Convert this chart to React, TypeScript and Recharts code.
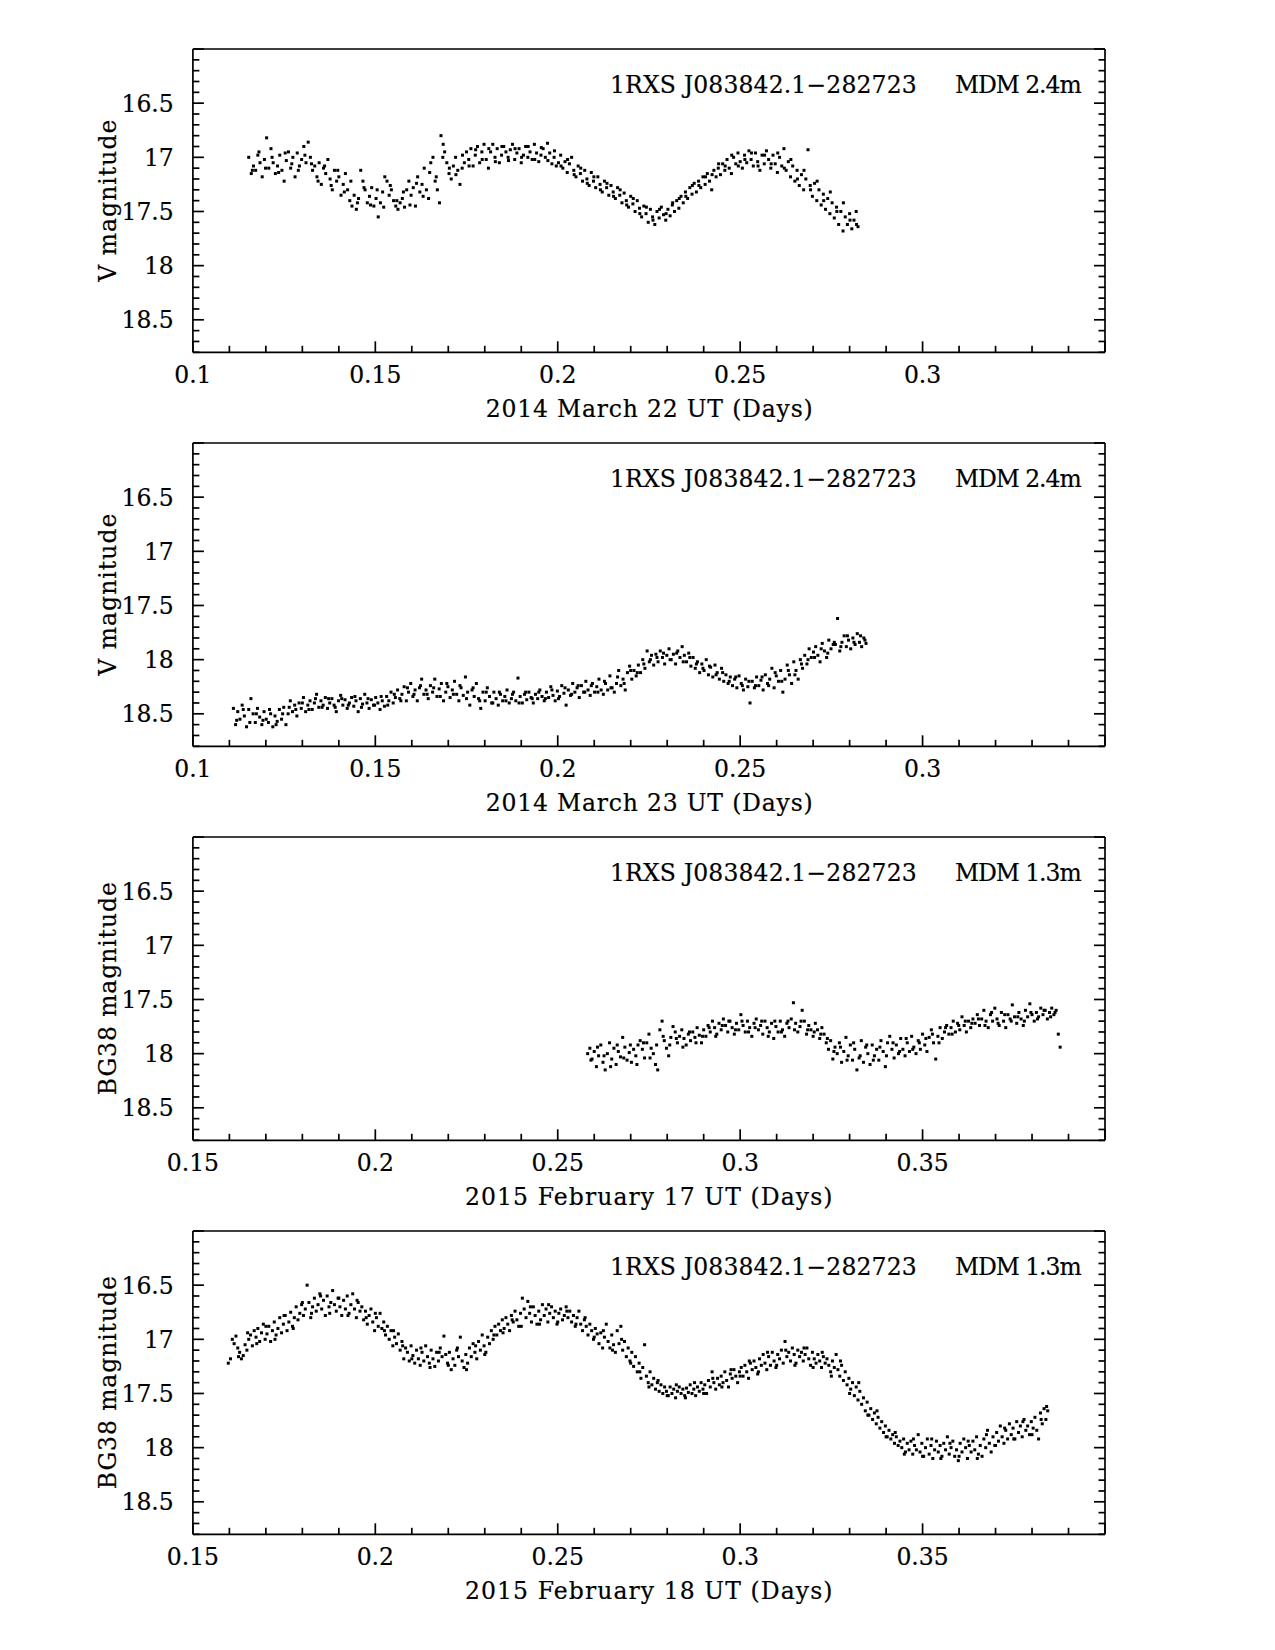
import React from 'react';
import { ScatterChart, Scatter, XAxis, YAxis } from 'recharts';

// ---------------- data (day fraction, magnitude) ----------------
const march22: [number, number][] = [
[0.1153,17.00],[0.1160,17.15],[0.1166,17.08],[0.1172,17.12],[0.1178,16.98],[0.1184,17.05],[0.1190,17.18],[0.1196,17.02],[0.1202,16.82],[0.1208,17.10],
[0.1214,16.92],[0.1220,17.05],[0.1226,17.15],[0.1232,17.08],[0.1238,16.98],[0.1244,17.12],[0.1250,17.22],[0.1256,17.03],[0.1262,16.95],[0.1268,17.10],
[0.1274,17.00],[0.1280,17.18],[0.1286,16.96],[0.1292,17.08],[0.1298,17.02],[0.1304,16.90],[0.1310,17.05],[0.1316,16.86],[0.1322,17.00],[0.1328,17.12],
[0.1334,17.08],[0.1340,17.18],[0.1346,17.05],[0.1352,17.25],[0.1358,17.10],[0.1364,17.15],[0.1370,17.02],[0.1376,17.20],[0.1382,17.30],[0.1388,17.12],
[0.1394,17.22],[0.1400,17.18],[0.1406,17.35],[0.1412,17.25],[0.1418,17.15],[0.1424,17.30],[0.1430,17.40],[0.1436,17.45],[0.1442,17.35],[0.1448,17.48],
[0.1454,17.38],[0.1460,17.12],[0.1466,17.22],[0.1472,17.30],[0.1478,17.42],[0.1484,17.36],[0.1490,17.28],[0.1496,17.45],[0.1502,17.38],[0.1508,17.55],
[0.1514,17.42],[0.1520,17.32],[0.1526,17.18],[0.1532,17.22],[0.1538,17.35],[0.1544,17.30],[0.1550,17.40],[0.1556,17.45],[0.1562,17.48],[0.1568,17.42],
[0.1574,17.38],[0.1580,17.46],[0.1586,17.30],[0.1592,17.22],[0.1598,17.35],[0.1604,17.28],[0.1610,17.45],[0.1616,17.18],[0.1622,17.32],[0.1628,17.25],
[0.1634,17.10],[0.1640,17.30],[0.1646,17.38],[0.1652,17.05],[0.1658,17.00],[0.1664,17.22],[0.1670,17.30],[0.1676,17.42],[0.1680,16.80],[0.1686,16.88],
[0.1690,16.95],[0.1696,17.05],[0.1702,17.15],[0.1708,17.20],[0.1714,17.08],[0.1720,17.00],[0.1726,17.12],[0.1732,17.25],[0.1738,17.10],[0.1744,17.05],
[0.1750,16.95],[0.1756,17.02],[0.1762,16.92],[0.1768,17.08],[0.1774,16.98],[0.1780,16.90],[0.1786,17.05],[0.1792,16.95],[0.1798,16.88],[0.1804,17.02],
[0.1810,17.10],[0.1816,16.95],[0.1822,16.88],[0.1828,17.00],[0.1834,16.92],[0.1840,17.05],[0.1846,16.98],[0.1852,16.90],[0.1858,16.95],[0.1864,17.00],
[0.1870,16.93],[0.1876,16.88],[0.1882,17.02],[0.1888,16.96],[0.1894,16.92],[0.1900,17.05],[0.1906,16.98],[0.1912,16.90],[0.1918,17.00],[0.1924,16.95],
[0.1930,17.02],[0.1936,16.88],[0.1942,16.96],[0.1948,17.04],[0.1954,16.98],[0.1960,16.92],[0.1966,17.00],[0.1972,16.87],[0.1978,16.96],[0.1984,17.06],
[0.1990,17.00],[0.1996,17.08],[0.2002,17.05],[0.2008,16.98],[0.2014,17.10],[0.2020,17.04],[0.2026,17.14],[0.2032,17.06],[0.2038,17.00],[0.2044,17.12],
[0.2050,17.18],[0.2056,17.08],[0.2062,17.15],[0.2068,17.22],[0.2074,17.12],[0.2080,17.20],[0.2086,17.26],[0.2092,17.14],[0.2098,17.22],[0.2104,17.28],
[0.2110,17.18],[0.2116,17.25],[0.2122,17.32],[0.2128,17.22],[0.2134,17.28],[0.2140,17.35],[0.2146,17.26],[0.2152,17.32],[0.2158,17.38],[0.2164,17.28],
[0.2170,17.35],[0.2176,17.42],[0.2182,17.33],[0.2188,17.40],[0.2194,17.46],[0.2200,17.36],[0.2206,17.43],[0.2212,17.50],[0.2218,17.40],[0.2224,17.47],
[0.2230,17.55],[0.2236,17.45],[0.2242,17.52],[0.2248,17.60],[0.2254,17.48],[0.2260,17.55],[0.2266,17.62],[0.2272,17.50],[0.2278,17.56],[0.2284,17.46],
[0.2290,17.53],[0.2296,17.58],[0.2302,17.48],[0.2308,17.54],[0.2314,17.44],[0.2320,17.50],[0.2326,17.40],[0.2332,17.47],[0.2338,17.36],[0.2344,17.42],
[0.2350,17.32],[0.2356,17.38],[0.2362,17.28],[0.2368,17.34],[0.2374,17.24],[0.2380,17.32],[0.2386,17.22],[0.2392,17.28],[0.2398,17.18],[0.2404,17.25],
[0.2410,17.15],[0.2416,17.22],[0.2422,17.30],[0.2428,17.12],[0.2434,17.18],[0.2440,17.10],[0.2446,17.16],[0.2452,17.06],[0.2458,17.12],[0.2464,17.02],
[0.2470,17.10],[0.2476,17.15],[0.2482,17.00],[0.2488,17.06],[0.2494,16.96],[0.2500,17.04],[0.2506,17.10],[0.2512,16.98],[0.2518,17.05],[0.2524,16.94],
[0.2530,17.02],[0.2536,17.08],[0.2542,16.96],[0.2548,17.04],[0.2554,17.12],[0.2560,16.98],[0.2566,17.06],[0.2572,16.94],[0.2578,17.02],[0.2584,17.10],
[0.2590,16.98],[0.2596,17.06],[0.2602,17.14],[0.2608,17.00],[0.2614,17.08],[0.2620,16.92],[0.2626,17.12],[0.2632,17.04],[0.2638,17.18],[0.2644,17.08],
[0.2650,17.22],[0.2656,17.12],[0.2662,17.26],[0.2668,17.16],[0.2674,17.30],[0.2680,17.20],[0.2686,16.93],[0.2692,17.26],[0.2698,17.36],[0.2704,17.24],
[0.2710,17.40],[0.2716,17.30],[0.2722,17.44],[0.2728,17.34],[0.2734,17.48],[0.2740,17.38],[0.2746,17.52],[0.2752,17.42],[0.2758,17.56],[0.2764,17.46],
[0.2770,17.62],[0.2776,17.50],[0.2782,17.68],[0.2788,17.55],[0.2794,17.62],[0.2800,17.52],[0.2806,17.66],[0.2812,17.58],[0.2818,17.50],[0.2823,17.64],
];
const march22b: [number, number][] = [
[0.1163,17.12],[0.1181,16.95],[0.1199,17.10],[0.1217,17.00],[0.1235,17.14],[0.1253,16.96],[0.1271,17.06],[0.1289,17.12],[0.1307,16.98],[0.1325,17.06],
[0.1343,17.22],[0.1361,17.08],[0.1379,17.26],[0.1397,17.12],[0.1415,17.32],[0.1433,17.22],[0.1451,17.42],[0.1469,17.28],[0.1487,17.44],[0.1505,17.30],
[0.1523,17.46],[0.1541,17.26],[0.1559,17.40],[0.1577,17.32],[0.1595,17.44],[0.1613,17.24],[0.1631,17.36],[0.1649,17.14],[0.1667,17.18],[0.1685,17.00],
[0.1703,17.10],[0.1721,17.16],[0.1739,16.98],[0.1757,17.08],[0.1775,16.93],[0.1793,17.02],[0.1811,16.92],[0.1829,17.04],[0.1847,16.90],[0.1865,17.03],
[0.1883,16.92],[0.1901,17.00],[0.1919,16.90],[0.1937,17.02],[0.1955,16.91],[0.1973,17.03],[0.1991,16.94],[0.2009,17.08],[0.2027,17.02],[0.2045,17.16],
[0.2063,17.10],[0.2081,17.24],[0.2099,17.18],[0.2117,17.30],[0.2135,17.24],[0.2153,17.36],[0.2171,17.30],[0.2189,17.44],[0.2207,17.38],[0.2225,17.52],
[0.2243,17.46],[0.2261,17.58],[0.2279,17.48],[0.2297,17.52],[0.2315,17.42],[0.2333,17.38],[0.2351,17.36],[0.2369,17.26],[0.2387,17.26],[0.2405,17.18],
[0.2423,17.16],[0.2441,17.06],[0.2459,17.08],[0.2477,16.98],[0.2495,17.08],[0.2513,17.02],[0.2531,16.96],[0.2549,17.08],[0.2567,16.98],[0.2585,17.06],
[0.2603,16.96],[0.2621,17.10],[0.2639,17.02],[0.2657,17.20],[0.2675,17.12],[0.2693,17.30],[0.2711,17.22],[0.2729,17.40],[0.2747,17.32],[0.2765,17.50],
[0.2783,17.42],[0.2801,17.58],[0.2819,17.62],
];

const march23: [number, number][] = [
[0.1111,18.45],[0.1117,18.60],[0.1123,18.48],[0.1129,18.55],[0.1135,18.42],[0.1141,18.52],[0.1147,18.62],[0.1153,18.46],[0.1159,18.36],[0.1165,18.50],
[0.1171,18.58],[0.1177,18.45],[0.1183,18.53],[0.1189,18.60],[0.1195,18.48],[0.1201,18.55],[0.1207,18.58],[0.1213,18.50],[0.1219,18.62],[0.1225,18.52],
[0.1231,18.57],[0.1237,18.46],[0.1243,18.55],[0.1249,18.44],[0.1255,18.60],[0.1261,18.50],[0.1267,18.38],[0.1273,18.48],[0.1279,18.42],[0.1285,18.52],
[0.1291,18.40],[0.1297,18.45],[0.1303,18.35],[0.1309,18.48],[0.1315,18.42],[0.1321,18.38],[0.1327,18.46],[0.1333,18.40],[0.1339,18.32],[0.1345,18.44],
[0.1351,18.38],[0.1357,18.42],[0.1363,18.35],[0.1369,18.45],[0.1375,18.40],[0.1381,18.36],[0.1387,18.42],[0.1393,18.48],[0.1399,18.38],[0.1405,18.33],
[0.1411,18.42],[0.1417,18.37],[0.1423,18.45],[0.1429,18.40],[0.1435,18.35],[0.1441,18.43],[0.1447,18.38],[0.1453,18.48],[0.1459,18.36],[0.1465,18.41],
[0.1471,18.32],[0.1477,18.40],[0.1483,18.45],[0.1489,18.37],[0.1495,18.42],[0.1501,18.35],[0.1507,18.40],[0.1513,18.46],[0.1519,18.38],[0.1525,18.43],
[0.1531,18.34],[0.1537,18.38],[0.1543,18.30],[0.1549,18.40],[0.1555,18.35],[0.1561,18.28],[0.1567,18.36],[0.1573,18.32],[0.1579,18.25],[0.1585,18.38],
[0.1591,18.30],[0.1597,18.22],[0.1603,18.34],[0.1609,18.28],[0.1615,18.38],[0.1621,18.26],[0.1627,18.18],[0.1633,18.32],[0.1639,18.28],[0.1645,18.36],
[0.1651,18.24],[0.1657,18.30],[0.1663,18.18],[0.1669,18.34],[0.1675,18.27],[0.1681,18.22],[0.1687,18.38],[0.1693,18.30],[0.1699,18.25],[0.1705,18.35],
[0.1711,18.28],[0.1717,18.20],[0.1723,18.32],[0.1729,18.38],[0.1735,18.26],[0.1741,18.33],[0.1747,18.16],[0.1753,18.30],[0.1759,18.42],[0.1765,18.28],
[0.1771,18.34],[0.1777,18.22],[0.1783,18.36],[0.1789,18.45],[0.1795,18.30],[0.1801,18.38],[0.1807,18.26],[0.1813,18.34],[0.1819,18.40],[0.1825,18.30],
[0.1831,18.36],[0.1837,18.42],[0.1843,18.32],[0.1849,18.38],[0.1855,18.34],[0.1861,18.28],[0.1867,18.40],[0.1873,18.36],[0.1879,18.30],[0.1885,18.38],
[0.1891,18.17],[0.1897,18.34],[0.1903,18.40],[0.1909,18.32],[0.1915,18.37],[0.1921,18.30],[0.1927,18.35],[0.1933,18.40],[0.1939,18.32],[0.1945,18.36],
[0.1951,18.28],[0.1957,18.34],[0.1963,18.38],[0.1969,18.30],[0.1975,18.35],[0.1981,18.25],[0.1987,18.33],[0.1993,18.38],[0.1999,18.29],[0.2005,18.34],
[0.2011,18.24],[0.2017,18.31],[0.2023,18.42],[0.2029,18.28],[0.2035,18.33],[0.2041,18.22],[0.2047,18.30],[0.2053,18.26],[0.2059,18.35],[0.2065,18.24],
[0.2071,18.30],[0.2077,18.20],[0.2083,18.28],[0.2089,18.33],[0.2095,18.22],[0.2101,18.30],[0.2107,18.25],[0.2113,18.18],[0.2119,18.28],[0.2125,18.32],
[0.2131,18.22],[0.2137,18.28],[0.2143,18.15],[0.2149,18.26],[0.2155,18.30],[0.2161,18.22],[0.2167,18.10],[0.2173,18.24],[0.2179,18.18],[0.2185,18.28],
[0.2191,18.12],[0.2197,18.06],[0.2203,18.18],[0.2209,18.10],[0.2215,18.15],[0.2221,18.05],[0.2227,18.12],[0.2233,18.00],[0.2239,18.08],[0.2245,17.92],
[0.2251,18.02],[0.2257,17.96],[0.2263,18.05],[0.2269,17.95],[0.2275,18.02],[0.2281,17.92],[0.2287,17.98],[0.2293,18.04],[0.2299,17.96],[0.2305,17.90],
[0.2311,18.00],[0.2317,17.95],[0.2323,18.04],[0.2329,17.92],[0.2335,17.98],[0.2341,17.88],[0.2347,17.96],[0.2353,18.02],[0.2359,17.94],[0.2365,18.06],
[0.2371,17.98],[0.2377,18.08],[0.2383,18.02],[0.2389,18.12],[0.2395,18.04],[0.2401,18.10],[0.2407,18.00],[0.2413,18.14],[0.2419,18.07],[0.2425,18.16],
[0.2431,18.05],[0.2437,18.12],[0.2443,18.18],[0.2449,18.08],[0.2455,18.20],[0.2461,18.14],[0.2467,18.22],[0.2473,18.16],[0.2479,18.24],[0.2485,18.18],
[0.2491,18.26],[0.2497,18.15],[0.2503,18.22],[0.2509,18.28],[0.2515,18.18],[0.2521,18.25],[0.2527,18.40],[0.2533,18.20],[0.2539,18.26],[0.2545,18.16],
[0.2551,18.24],[0.2557,18.19],[0.2563,18.28],[0.2569,18.14],[0.2575,18.22],[0.2581,18.18],[0.2587,18.08],[0.2593,18.26],[0.2599,18.15],[0.2605,18.20],
[0.2611,18.10],[0.2617,18.30],[0.2623,18.18],[0.2629,18.05],[0.2635,18.14],[0.2641,18.22],[0.2647,18.02],[0.2653,18.10],[0.2659,18.18],[0.2665,18.00],
[0.2671,18.08],[0.2677,17.96],[0.2683,18.04],[0.2689,17.90],[0.2695,17.98],[0.2701,17.93],[0.2707,17.88],[0.2713,17.96],[0.2719,18.02],[0.2725,17.85],
[0.2731,17.92],[0.2737,17.98],[0.2743,17.82],[0.2749,17.90],[0.2755,17.86],[0.2761,17.86],[0.2767,17.62],[0.2773,17.92],[0.2779,17.84],[0.2785,17.78],
[0.2791,17.88],[0.2797,17.82],[0.2803,17.90],[0.2809,17.80],[0.2815,17.86],[0.2821,17.76],[0.2827,17.84],[0.2833,17.88],[0.2839,17.80],[0.2845,17.85],
];
const march23b: [number, number][] = [
[0.1120,18.56],[0.1138,18.46],[0.1156,18.58],[0.1174,18.50],[0.1192,18.56],[0.1210,18.46],[0.1228,18.60],[0.1246,18.50],[0.1264,18.44],[0.1282,18.46],
[0.1300,18.40],[0.1318,18.46],[0.1336,18.36],[0.1354,18.44],[0.1372,18.36],[0.1390,18.44],[0.1408,18.36],[0.1426,18.42],[0.1444,18.34],[0.1462,18.44],
[0.1480,18.36],[0.1498,18.42],[0.1516,18.34],[0.1534,18.42],[0.1552,18.32],[0.1570,18.38],[0.1588,18.26],[0.1606,18.32],[0.1624,18.24],[0.1642,18.32],
[0.1660,18.26],[0.1678,18.34],[0.1696,18.22],[0.1714,18.32],[0.1732,18.24],[0.1750,18.36],[0.1768,18.26],[0.1786,18.38],[0.1804,18.30],[0.1822,18.40],
[0.1840,18.30],[0.1858,18.38],[0.1876,18.32],[0.1894,18.40],[0.1912,18.30],[0.1930,18.36],[0.1948,18.30],[0.1966,18.36],[0.1984,18.28],[0.2002,18.36],
[0.2020,18.26],[0.2038,18.32],[0.2056,18.24],[0.2074,18.30],[0.2092,18.24],[0.2110,18.30],[0.2128,18.20],[0.2146,18.26],[0.2164,18.16],[0.2182,18.22],
[0.2200,18.10],[0.2218,18.12],[0.2236,18.04],[0.2254,18.00],[0.2272,17.98],[0.2290,17.94],[0.2308,18.00],[0.2326,17.94],[0.2344,18.02],[0.2362,17.98],
[0.2380,18.04],[0.2398,18.08],[0.2416,18.06],[0.2434,18.14],[0.2452,18.12],[0.2470,18.20],[0.2488,18.16],[0.2506,18.24],[0.2524,18.20],[0.2542,18.24],
[0.2560,18.16],[0.2578,18.24],[0.2596,18.12],[0.2614,18.20],[0.2632,18.10],[0.2650,18.14],[0.2668,18.04],[0.2686,18.00],[0.2704,17.98],[0.2722,17.90],
[0.2740,17.94],[0.2758,17.84],[0.2776,17.88],[0.2794,17.78],[0.2812,17.84],[0.2830,17.78],[0.2842,17.82],
];

const feb17: [number, number][] = [
[0.2582,18.00],[0.2588,17.95],[0.2594,18.05],[0.2600,17.98],[0.2606,18.12],[0.2612,18.02],[0.2618,17.92],[0.2624,18.08],[0.2630,18.15],[0.2636,18.00],
[0.2642,17.90],[0.2648,18.05],[0.2654,17.95],[0.2660,18.10],[0.2666,17.98],[0.2672,18.03],[0.2678,17.85],[0.2684,17.94],[0.2690,18.06],[0.2696,17.99],
[0.2702,18.08],[0.2708,17.96],[0.2714,18.02],[0.2720,17.92],[0.2726,17.88],[0.2732,17.96],[0.2738,18.04],[0.2744,17.90],[0.2750,17.82],[0.2756,17.95],
[0.2762,18.00],[0.2768,18.10],[0.2774,18.15],[0.2780,17.78],[0.2786,17.70],[0.2792,17.88],[0.2798,17.95],[0.2804,18.02],[0.2810,17.85],[0.2816,17.75],
[0.2822,17.80],[0.2828,17.90],[0.2834,17.84],[0.2840,17.78],[0.2846,17.86],[0.2852,17.92],[0.2858,17.82],[0.2864,17.88],[0.2870,17.80],[0.2876,17.85],
[0.2882,17.76],[0.2888,17.83],[0.2894,17.90],[0.2900,17.78],[0.2906,17.84],[0.2912,17.74],[0.2918,17.80],[0.2924,17.70],[0.2930,17.76],[0.2936,17.82],
[0.2942,17.72],[0.2948,17.78],[0.2954,17.68],[0.2960,17.74],[0.2966,17.80],[0.2972,17.70],[0.2978,17.76],[0.2984,17.82],[0.2990,17.72],[0.2996,17.78],
[0.3002,17.64],[0.3008,17.74],[0.3014,17.80],[0.3020,17.70],[0.3026,17.76],[0.3032,17.84],[0.3038,17.72],[0.3044,17.68],[0.3050,17.78],[0.3056,17.74],
[0.3062,17.82],[0.3068,17.70],[0.3074,17.76],[0.3080,17.80],[0.3086,17.72],[0.3092,17.86],[0.3098,17.75],[0.3104,17.80],[0.3110,17.70],[0.3116,17.78],
[0.3122,17.84],[0.3128,17.72],[0.3134,17.76],[0.3140,17.68],[0.3146,17.53],[0.3152,17.72],[0.3158,17.80],[0.3164,17.75],[0.3170,17.60],[0.3176,17.70],
[0.3182,17.82],[0.3188,17.74],[0.3194,17.78],[0.3200,17.84],[0.3206,17.72],[0.3212,17.78],[0.3218,17.86],[0.3224,17.76],[0.3230,17.82],[0.3236,17.90],
[0.3242,17.96],[0.3248,17.88],[0.3254,18.05],[0.3260,17.94],[0.3266,18.00],[0.3272,17.90],[0.3278,18.08],[0.3284,17.98],[0.3290,17.85],[0.3296,18.02],
[0.3302,17.92],[0.3308,18.06],[0.3314,17.96],[0.3320,18.15],[0.3326,18.04],[0.3332,17.88],[0.3338,18.08],[0.3344,17.94],[0.3350,18.00],[0.3356,18.10],
[0.3362,17.92],[0.3368,18.02],[0.3374,17.96],[0.3380,18.06],[0.3386,17.88],[0.3392,17.98],[0.3398,18.12],[0.3404,17.90],[0.3410,17.84],[0.3416,17.96],
[0.3422,18.04],[0.3428,17.92],[0.3434,18.00],[0.3440,17.86],[0.3446,17.96],[0.3452,18.02],[0.3458,17.90],[0.3464,17.98],[0.3470,17.84],[0.3476,17.94],
[0.3482,18.00],[0.3488,17.88],[0.3494,17.96],[0.3500,17.82],[0.3506,17.92],[0.3512,17.98],[0.3518,17.85],[0.3524,17.78],[0.3530,17.90],[0.3536,18.05],
[0.3542,17.84],[0.3548,17.76],[0.3554,17.86],[0.3560,17.80],[0.3566,17.74],[0.3572,17.82],[0.3578,17.76],[0.3584,17.70],[0.3590,17.80],[0.3596,17.72],
[0.3602,17.78],[0.3608,17.66],[0.3614,17.74],[0.3620,17.80],[0.3626,17.70],[0.3632,17.76],[0.3638,17.68],[0.3644,17.72],[0.3650,17.64],[0.3656,17.74],
[0.3662,17.68],[0.3668,17.60],[0.3674,17.70],[0.3680,17.76],[0.3686,17.64],[0.3692,17.70],[0.3698,17.58],[0.3704,17.68],[0.3710,17.74],[0.3716,17.62],
[0.3722,17.70],[0.3728,17.76],[0.3734,17.64],[0.3740,17.68],[0.3746,17.55],[0.3752,17.66],[0.3758,17.72],[0.3764,17.62],[0.3770,17.68],[0.3776,17.74],
[0.3782,17.60],[0.3788,17.66],[0.3794,17.54],[0.3800,17.64],[0.3806,17.70],[0.3812,17.62],[0.3818,17.66],[0.3824,17.58],[0.3830,17.64],[0.3836,17.60],
[0.3842,17.68],[0.3848,17.62],[0.3854,17.58],[0.3860,17.64],[0.3866,17.60],[0.3872,17.82],[0.3877,17.94],
];
const feb17b: [number, number][] = [
[0.2591,18.06],[0.2609,17.94],[0.2627,18.02],[0.2645,18.12],[0.2663,17.92],[0.2681,18.04],[0.2699,17.92],[0.2717,18.10],[0.2735,17.90],[0.2753,18.04],
[0.2771,17.92],[0.2789,17.84],[0.2807,17.92],[0.2825,17.86],[0.2843,17.94],[0.2861,17.80],[0.2879,17.90],[0.2897,17.84],[0.2915,17.76],[0.2933,17.84],
[0.2951,17.74],[0.2969,17.70],[0.2987,17.78],[0.3005,17.70],[0.3023,17.80],[0.3041,17.76],[0.3059,17.70],[0.3077,17.84],[0.3095,17.70],[0.3113,17.80],
[0.3131,17.70],[0.3149,17.78],[0.3167,17.70],[0.3185,17.78],[0.3203,17.80],[0.3221,17.82],[0.3239,17.86],[0.3257,17.98],[0.3275,17.94],[0.3293,18.06],
[0.3311,17.90],[0.3329,18.02],[0.3347,17.92],[0.3365,18.06],[0.3383,17.94],[0.3401,18.02],[0.3419,17.90],[0.3437,17.98],[0.3455,17.86],[0.3473,17.96],
[0.3491,17.90],[0.3509,17.86],[0.3527,17.82],[0.3545,17.90],[0.3563,17.76],[0.3581,17.82],[0.3599,17.74],[0.3617,17.70],[0.3635,17.72],[0.3653,17.68],
[0.3671,17.74],[0.3689,17.62],[0.3707,17.72],[0.3725,17.64],[0.3743,17.70],[0.3761,17.66],[0.3779,17.70],[0.3797,17.62],[0.3815,17.68],[0.3833,17.60],
[0.3851,17.66],[0.3863,17.62],
];

const feb18: [number, number][] = [
[0.1597,17.22],[0.1603,17.18],[0.1608,17.00],[0.1613,17.04],[0.1618,16.97],[0.1623,17.08],[0.1628,17.12],[0.1633,17.18],[0.1638,17.15],[0.1643,17.05],
[0.1648,17.10],[0.1653,17.00],[0.1658,16.96],[0.1663,17.06],[0.1668,16.92],[0.1673,16.98],[0.1678,16.90],[0.1683,17.02],[0.1688,16.94],[0.1693,16.86],
[0.1698,17.00],[0.1703,16.95],[0.1708,16.88],[0.1713,17.02],[0.1718,16.92],[0.1723,16.84],[0.1728,16.96],[0.1733,16.90],[0.1738,16.80],[0.1743,16.94],
[0.1748,16.86],[0.1753,16.78],[0.1758,16.92],[0.1763,16.84],[0.1768,16.75],[0.1773,16.88],[0.1778,16.80],[0.1783,16.70],[0.1788,16.82],[0.1793,16.76],
[0.1798,16.68],[0.1803,16.78],[0.1808,16.72],[0.1813,16.50],[0.1818,16.66],[0.1823,16.80],[0.1828,16.70],[0.1833,16.62],[0.1838,16.74],[0.1843,16.68],
[0.1848,16.58],[0.1853,16.72],[0.1858,16.64],[0.1863,16.78],[0.1868,16.60],[0.1873,16.70],[0.1878,16.66],[0.1883,16.55],[0.1888,16.68],[0.1893,16.74],
[0.1898,16.62],[0.1903,16.70],[0.1908,16.78],[0.1913,16.64],[0.1918,16.72],[0.1923,16.60],[0.1928,16.76],[0.1933,16.68],[0.1938,16.58],[0.1943,16.72],
[0.1948,16.80],[0.1953,16.66],[0.1958,16.74],[0.1963,16.70],[0.1968,16.82],[0.1973,16.74],[0.1978,16.86],[0.1983,16.78],[0.1988,16.72],[0.1993,16.84],
[0.1998,16.92],[0.2003,16.80],[0.2008,16.88],[0.2013,16.76],[0.2018,16.90],[0.2023,16.84],[0.2028,16.96],[0.2033,16.88],[0.2038,17.00],[0.2043,16.92],
[0.2048,17.06],[0.2053,16.98],[0.2058,17.04],[0.2063,16.95],[0.2068,17.10],[0.2073,17.02],[0.2078,17.18],[0.2083,17.08],[0.2088,17.12],[0.2093,17.20],
[0.2098,17.06],[0.2103,17.15],[0.2108,17.22],[0.2113,17.10],[0.2118,17.18],[0.2123,17.24],[0.2128,17.12],[0.2133,17.20],[0.2138,17.06],[0.2143,17.16],
[0.2148,17.22],[0.2153,17.10],[0.2158,17.18],[0.2163,17.25],[0.2168,17.12],[0.2173,17.20],[0.2178,17.08],[0.2183,17.16],[0.2188,16.97],[0.2193,17.14],
[0.2198,17.22],[0.2203,17.12],[0.2208,17.28],[0.2213,17.18],[0.2218,17.24],[0.2223,17.10],[0.2228,17.16],[0.2233,16.98],[0.2238,17.20],[0.2243,17.26],
[0.2248,17.14],[0.2253,17.22],[0.2258,17.08],[0.2263,17.16],[0.2268,17.04],[0.2273,17.12],[0.2278,17.18],[0.2283,17.02],[0.2288,17.10],[0.2293,16.96],
[0.2298,17.06],[0.2303,17.12],[0.2308,16.98],[0.2313,17.04],[0.2318,16.92],[0.2323,17.00],[0.2328,16.88],[0.2333,16.96],[0.2338,16.86],[0.2343,16.92],
[0.2348,16.82],[0.2353,16.90],[0.2358,16.80],[0.2363,16.86],[0.2368,16.92],[0.2373,16.78],[0.2378,16.84],[0.2383,16.74],[0.2388,16.82],[0.2393,16.88],
[0.2398,16.76],[0.2403,16.62],[0.2408,16.72],[0.2413,16.80],[0.2418,16.65],[0.2423,16.76],[0.2428,16.84],[0.2433,16.70],[0.2438,16.78],[0.2443,16.86],
[0.2448,16.74],[0.2453,16.82],[0.2458,16.68],[0.2463,16.78],[0.2468,16.72],[0.2473,16.84],[0.2478,16.76],[0.2483,16.70],[0.2488,16.80],[0.2493,16.74],
[0.2498,16.86],[0.2503,16.76],[0.2508,16.72],[0.2513,16.82],[0.2518,16.78],[0.2523,16.70],[0.2528,16.80],[0.2533,16.74],[0.2538,16.84],[0.2543,16.78],
[0.2548,16.88],[0.2553,16.80],[0.2558,16.74],[0.2563,16.86],[0.2568,16.92],[0.2573,16.82],[0.2578,16.88],[0.2583,16.96],[0.2588,16.86],[0.2593,16.92],
[0.2598,17.00],[0.2603,16.90],[0.2608,16.95],[0.2613,17.04],[0.2618,16.94],[0.2623,17.08],[0.2628,16.98],[0.2633,16.86],[0.2638,17.02],[0.2643,17.08],
[0.2648,16.96],[0.2653,17.05],[0.2658,17.12],[0.2663,16.92],[0.2668,17.04],[0.2673,16.88],[0.2678,17.10],[0.2683,17.02],[0.2688,17.16],[0.2693,17.08],
[0.2698,17.20],[0.2703,17.12],[0.2708,17.25],[0.2713,17.16],[0.2718,17.30],[0.2723,17.22],[0.2728,17.36],[0.2733,17.26],[0.2738,17.05],[0.2743,17.34],
[0.2748,17.40],[0.2753,17.30],[0.2758,17.42],[0.2763,17.36],[0.2768,17.46],[0.2773,17.40],[0.2778,17.48],[0.2783,17.42],[0.2788,17.50],[0.2793,17.44],
[0.2798,17.48],[0.2803,17.52],[0.2808,17.44],[0.2813,17.50],[0.2818,17.46],[0.2823,17.54],[0.2828,17.48],[0.2833,17.44],[0.2838,17.50],[0.2843,17.46],
[0.2848,17.52],[0.2853,17.45],[0.2858,17.49],[0.2863,17.42],[0.2868,17.50],[0.2873,17.46],[0.2878,17.52],[0.2883,17.44],[0.2888,17.48],[0.2893,17.40],
[0.2898,17.46],[0.2903,17.42],[0.2908,17.50],[0.2913,17.38],[0.2918,17.44],[0.2923,17.30],[0.2928,17.40],[0.2933,17.46],[0.2938,17.36],[0.2943,17.42],
[0.2948,17.34],[0.2953,17.40],[0.2958,17.30],[0.2963,17.38],[0.2968,17.44],[0.2973,17.32],[0.2978,17.36],[0.2983,17.28],[0.2988,17.34],[0.2993,17.40],
[0.2998,17.30],[0.3003,17.26],[0.3008,17.34],[0.3013,17.24],[0.3018,17.30],[0.3023,17.36],[0.3028,17.22],[0.3033,17.28],[0.3038,17.20],[0.3043,17.26],
[0.3048,17.32],[0.3053,17.18],[0.3058,17.24],[0.3063,17.14],[0.3068,17.22],[0.3073,17.28],[0.3078,17.16],[0.3083,17.24],[0.3088,17.12],[0.3093,17.20],
[0.3098,17.26],[0.3103,17.14],[0.3108,17.18],[0.3113,17.10],[0.3118,17.22],[0.3123,17.02],[0.3128,17.16],[0.3133,17.12],[0.3138,17.20],[0.3143,17.08],
[0.3148,17.14],[0.3153,17.22],[0.3158,17.10],[0.3163,17.16],[0.3168,17.12],[0.3173,17.20],[0.3178,17.14],[0.3183,17.08],[0.3188,17.18],[0.3193,17.24],
[0.3198,17.12],[0.3203,17.18],[0.3208,17.22],[0.3213,17.14],[0.3218,17.20],[0.3223,17.26],[0.3228,17.16],[0.3233,17.22],[0.3238,17.18],[0.3243,17.24],
[0.3248,17.30],[0.3253,17.20],[0.3258,17.26],[0.3263,17.14],[0.3268,17.28],[0.3273,17.34],[0.3278,17.24],[0.3283,17.38],[0.3288,17.30],[0.3293,17.42],
[0.3298,17.36],[0.3303,17.46],[0.3308,17.40],[0.3313,17.52],[0.3318,17.44],[0.3323,17.56],[0.3328,17.48],[0.3333,17.60],[0.3338,17.54],[0.3343,17.66],
[0.3348,17.58],[0.3353,17.70],[0.3358,17.64],[0.3363,17.74],[0.3368,17.68],[0.3373,17.78],[0.3378,17.72],[0.3383,17.82],[0.3388,17.76],[0.3393,17.86],
[0.3398,17.80],[0.3403,17.90],[0.3408,17.84],[0.3413,17.92],[0.3418,17.88],[0.3423,17.96],[0.3428,17.90],[0.3433,17.98],[0.3438,17.94],[0.3443,18.00],
[0.3448,17.92],[0.3453,18.04],[0.3458,17.96],[0.3463,18.02],[0.3468,17.94],[0.3473,18.06],[0.3478,17.98],[0.3483,18.02],[0.3488,17.88],[0.3493,18.04],
[0.3498,17.96],[0.3503,18.08],[0.3508,18.00],[0.3513,17.92],[0.3518,18.06],[0.3523,17.98],[0.3528,18.10],[0.3533,18.02],[0.3538,17.94],[0.3543,18.04],
[0.3548,17.98],[0.3553,18.08],[0.3558,17.96],[0.3563,18.02],[0.3568,17.90],[0.3573,18.06],[0.3578,18.00],[0.3583,17.94],[0.3588,18.08],[0.3593,18.02],
[0.3598,18.12],[0.3603,17.96],[0.3608,18.04],[0.3613,17.92],[0.3618,18.00],[0.3623,18.10],[0.3628,17.98],[0.3633,18.04],[0.3638,17.94],[0.3643,18.02],
[0.3648,17.90],[0.3653,18.06],[0.3658,17.98],[0.3663,18.08],[0.3668,17.92],[0.3673,18.00],[0.3678,17.84],[0.3683,17.96],[0.3688,18.04],[0.3693,17.90],
[0.3698,17.98],[0.3703,17.86],[0.3708,17.94],[0.3713,17.80],[0.3718,17.90],[0.3723,17.96],[0.3728,17.84],[0.3733,17.92],[0.3738,17.78],[0.3743,17.88],
[0.3748,17.82],[0.3753,17.92],[0.3758,17.76],[0.3763,17.86],[0.3768,17.80],[0.3773,17.90],[0.3778,17.74],[0.3783,17.84],[0.3788,17.80],[0.3793,17.88],
[0.3798,17.76],[0.3803,17.82],[0.3808,17.72],[0.3813,17.84],[0.3818,17.92],[0.3823,17.68],[0.3828,17.78],[0.3833,17.64],[0.3838,17.74],[0.3843,17.66],
];
const feb18b: [number, number][] = [
[0.1625,17.16],[0.1650,16.94],[0.1675,17.04],[0.1700,16.88],[0.1725,17.00],[0.1750,16.78],[0.1775,16.90],[0.1800,16.66],[0.1825,16.76],[0.1850,16.60],
[0.1875,16.76],[0.1900,16.62],[0.1925,16.78],[0.1950,16.64],[0.1975,16.80],[0.2000,16.76],[0.2025,16.92],[0.2050,16.92],[0.2075,17.06],[0.2100,17.18],
[0.2125,17.08],[0.2150,17.26],[0.2175,17.12],[0.2200,17.24],[0.2225,17.08],[0.2250,17.28],[0.2275,17.06],[0.2300,17.14],[0.2325,16.96],[0.2350,16.94],
[0.2375,16.82],[0.2400,16.88],[0.2425,16.70],[0.2450,16.86],[0.2475,16.68],[0.2500,16.84],[0.2525,16.74],[0.2550,16.86],[0.2575,16.80],[0.2600,16.98],
[0.2625,16.92],[0.2650,17.10],[0.2675,17.00],[0.2700,17.22],[0.2725,17.30],[0.2750,17.44],[0.2775,17.38],[0.2800,17.52],[0.2825,17.42],[0.2850,17.54],
[0.2875,17.40],[0.2900,17.50],[0.2925,17.36],[0.2950,17.44],[0.2975,17.28],[0.3000,17.34],[0.3025,17.20],[0.3050,17.30],[0.3075,17.12],[0.3100,17.24],
[0.3125,17.10],[0.3150,17.24],[0.3175,17.08],[0.3200,17.26],[0.3225,17.12],[0.3250,17.34],[0.3275,17.20],[0.3300,17.50],[0.3325,17.40],[0.3350,17.70],
[0.3375,17.66],[0.3400,17.90],[0.3425,17.86],[0.3450,18.06],[0.3475,17.92],[0.3500,18.08],[0.3525,17.92],[0.3550,18.10],[0.3575,17.96],[0.3600,18.08],
[0.3625,17.94],[0.3650,18.10],[0.3675,17.88],[0.3700,17.98],[0.3725,17.82],[0.3750,17.92],[0.3775,17.76],[0.3800,17.88],[0.3825,17.74],[0.3840,17.62],
];

// tick labels
const xLabels2014 = [0.1, 0.15, 0.2, 0.25, 0.3];
const xLabels2015 = [0.15, 0.2, 0.25, 0.3, 0.35];
const yLabels = [16.5, 17, 17.5, 18, 18.5];
const xDomain2014: [number, number] = [0.1, 0.35];
const xDomain2015: [number, number] = [0.15, 0.4];
const yDomain: [number, number] = [16, 18.8];

const xTitles = ['2014 March 22 UT (Days)', '2014 March 23 UT (Days)', '2015 February 17 UT (Days)', '2015 February 18 UT (Days)'];
const yTitles = ['V magnitude', 'V magnitude', 'BG38 magnitude', 'BG38 magnitude'];
const objectName = '1RXS J083842.1\u2212282723';
const scopes = ['MDM 2.4m', 'MDM 2.4m', 'MDM 1.3m', 'MDM 1.3m'];

// ---------------- layout ----------------
const W = 1275;
const CH = 440;
const PL = 192.9; // plot left
const PR = 1105; // plot right
const PT = 49; // plot top
const PH = 303.3;
const PB = PT + PH; // plot bottom
const AX = 1; // axis band size (must be > 0 for recharts to draw it)
const MARGIN = { top: PT - AX, left: PL - AX, right: W - PR - AX, bottom: CH - PB - AX };
const STEP = 394;
const FONT = '"DejaVu Serif", "Liberation Serif", serif';
const FS = 23.5;
const INK = '#000';
const TW = 0.2;
const SW = 1.7;
const MAJ = 11;
const MIN = 6.5;
const DOT = 3;

function steps(a: number, b: number, s: number): number[] {
  const out: number[] = [];
  const n = Math.round((b - a) / s);
  for (let i = 0; i <= n; i++) out.push(Math.round((a + i * s) * 1000) / 1000);
  return out;
}
const near = (a: number, b: number) => Math.abs(a - b) < 1e-7;
const isMajor = (v: number, per: number) => Math.abs(v * per - Math.round(v * per)) < 1e-6;
const fmt = (v: number, d: number) => String(Number(v.toFixed(d)));
const txt = { fontFamily: FONT, fontSize: FS, fill: INK, stroke: INK, strokeWidth: TW };

const Dot = (p: any) => (
  <rect x={p.cx - DOT / 2} y={p.cy - DOT / 2} width={DOT} height={DOT} fill="#000" />
);

const makeBottomTick = (labels: number[]) => (p: any) => {
  const v = p.payload.value;
  const len = isMajor(v, 20) ? MAJ : MIN;
  const show = labels.some((l) => near(l, v));
  return (
    <g>
      <line x1={p.x} x2={p.x} y1={PB} y2={PB - len} stroke={INK} strokeWidth={SW} />
      {show && (
        <text x={p.x} y={PB + 31} textAnchor="middle" {...txt}>
          {fmt(v, 2)}
        </text>
      )}
    </g>
  );
};
const TopTick = (p: any) => {
  const v = p.payload.value;
  const len = isMajor(v, 20) ? MAJ : MIN;
  return <line x1={p.x} x2={p.x} y1={PT} y2={PT + len} stroke={INK} strokeWidth={SW} />;
};
const LeftTick = (p: any) => {
  const v = p.payload.value;
  const len = isMajor(v, 2) ? MAJ : MIN;
  const show = yLabels.some((l) => near(l, v));
  return (
    <g>
      <line x1={PL} x2={PL + len} y1={p.y} y2={p.y} stroke={INK} strokeWidth={SW} />
      {show && (
        <text x={PL - 19.1} y={p.y + 8.4} textAnchor="end" {...txt}>
          {fmt(v, 1)}
        </text>
      )}
    </g>
  );
};
const RightTick = (p: any) => {
  const v = p.payload.value;
  const len = isMajor(v, 2) ? MAJ : MIN;
  return <line x1={PR} x2={PR - len} y1={p.y} y2={p.y} stroke={INK} strokeWidth={SW} />;
};

type PanelProps = {
  idx: number;
  rows: { t: number; m: number }[];
  xDomain: [number, number];
  xLabels: number[];
  xTitleStart: number;
  xTitleLen: number;
  yTitleLen: number;
};

function Panel({ idx, rows, xDomain, xLabels, xTitleStart, xTitleLen, yTitleLen }: PanelProps) {
  const xTicks = steps(xDomain[0], xDomain[1], 0.01);
  const yTicks = steps(yDomain[0], yDomain[1], 0.1);
  const axisLine = { stroke: INK, strokeWidth: SW };
  const BottomTick = makeBottomTick(xLabels);
  const XTitle = () => (
    <text x={xTitleStart} y={PB + 64.2} {...txt} textLength={xTitleLen} lengthAdjust="spacing">
      {xTitles[idx]}
    </text>
  );
  const yc = PT + PH / 2;
  const YTitle = () => (
    <text
      x={116.5}
      y={yc}
      transform={`rotate(-90, 116.5, ${yc})`}
      textAnchor="middle"
      {...txt}
      textLength={yTitleLen}
      lengthAdjust="spacing"
    >
      {yTitles[idx]}
    </text>
  );
  const Annot = () => (
    <g>
      <text x={610} y={PT + 44.3} {...txt} textLength={306.7} lengthAdjust="spacing">
        {objectName}
      </text>
      <text x={955} y={PT + 44.3} {...txt} textLength={126.7} lengthAdjust="spacing">
        {scopes[idx]}
      </text>
    </g>
  );
  return (
    <div style={{ position: 'absolute', left: 0, top: idx * STEP, width: W, height: CH }}>
      <ScatterChart width={W} height={CH} margin={MARGIN}>
        <XAxis
          xAxisId="b"
          dataKey="t"
          type="number"
          domain={xDomain}
          allowDataOverflow
          ticks={xTicks}
          interval={0}
          height={AX}
          tickSize={0}
          tickMargin={0}
          tickLine={false}
          tick={BottomTick}
          axisLine={axisLine}
          label={{ content: XTitle }}
        />
        <XAxis
          xAxisId="t"
          orientation="top"
          type="number"
          domain={xDomain}
          allowDataOverflow
          ticks={xTicks}
          interval={0}
          height={AX}
          tickSize={0}
          tickMargin={0}
          tickLine={false}
          tick={TopTick}
          axisLine={axisLine}
          label={{ content: Annot }}
        />
        <YAxis
          yAxisId="l"
          dataKey="m"
          type="number"
          domain={yDomain}
          reversed
          allowDataOverflow
          ticks={yTicks}
          interval={0}
          width={AX}
          tickSize={0}
          tickMargin={0}
          tickLine={false}
          tick={LeftTick}
          axisLine={axisLine}
          label={{ content: YTitle }}
        />
        <YAxis
          yAxisId="r"
          orientation="right"
          type="number"
          domain={yDomain}
          reversed
          allowDataOverflow
          ticks={yTicks}
          interval={0}
          width={AX}
          tickSize={0}
          tickMargin={0}
          tickLine={false}
          tick={RightTick}
          axisLine={axisLine}
        />
        <Scatter xAxisId="b" yAxisId="l" data={rows} shape={Dot} isAnimationActive={false} />
      </ScatterChart>
    </div>
  );
}

const toRows = (...sets: [number, number][][]) =>
  sets.flat().map(([t, m]) => ({ t, m })).sort((a, b) => a.t - b.t);

export default function App() {
  return (
    <div style={{ position: 'absolute', left: 0, top: 0, width: W, height: 1650, background: '#fff' }}>
      <Panel idx={0} rows={toRows(march22, march22b)} xDomain={xDomain2014} xLabels={xLabels2014} xTitleStart={485.7} xTitleLen={327} yTitleLen={162} />
      <Panel idx={1} rows={toRows(march23, march23b)} xDomain={xDomain2014} xLabels={xLabels2014} xTitleStart={485.7} xTitleLen={327} yTitleLen={162} />
      <Panel idx={2} rows={toRows(feb17, feb17b)} xDomain={xDomain2015} xLabels={xLabels2015} xTitleStart={465} xTitleLen={367.5} yTitleLen={213} />
      <Panel idx={3} rows={toRows(feb18, feb18b)} xDomain={xDomain2015} xLabels={xLabels2015} xTitleStart={465} xTitleLen={367.5} yTitleLen={213} />
    </div>
  );
}
